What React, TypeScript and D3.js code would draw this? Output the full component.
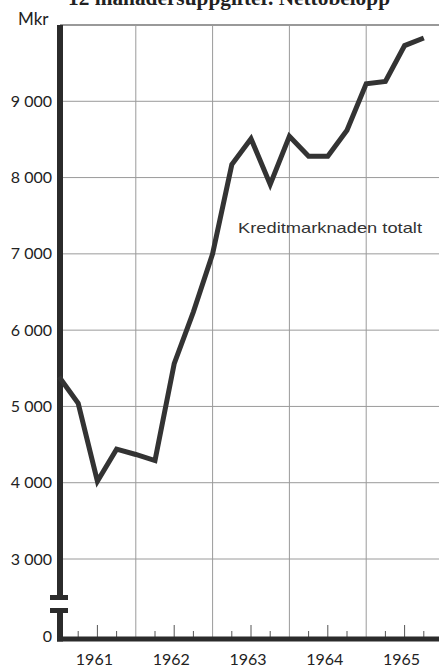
import { useEffect, useRef } from 'react';
import * as d3 from 'd3';

// ==========================================
// DATA
// ==========================================
const periods = [
    1961.0, 1961.25, 1961.5, 1961.75,
    1962.0, 1962.25, 1962.5, 1962.75,
    1963.0, 1963.25, 1963.5, 1963.75,
    1964.0, 1964.25, 1964.5, 1964.75,
    1965.0, 1965.25, 1965.5, 1965.75,
];

const kreditmarknaden = [
    5390, 5040, 4020, 4440,
    4370, 4290, 5560, 6240,
    7000, 8170, 8510, 7910,
    8540, 8280, 8280, 8620,
    9230, 9260, 9730, 9830,
];

const yearLabels = [1961, 1962, 1963, 1964, 1965];

const yTicks = [3000, 4000, 5000, 6000, 7000, 8000, 9000];

const title = '12 månadersuppgifter. Nettobelopp';
const unitLabel = 'Mkr';
const seriesLabel = 'Kreditmarknaden totalt';


const App = () => {

    const svgRef = useRef<SVGSVGElement>(null);

    useEffect(() => {

        document.body.style.margin = '0';

        const width = 439;
        const height = 671;

        const svg = d3.select(svgRef.current);
        svg.selectAll('*').remove();

        svg.attr('width', width).attr('height', height);

        const ink = '#2b2b2b';
        const grid = '#9a9a9a';
        const sans = 'Lato, "DejaVu Sans", sans-serif';

        // ==========================================
        // SCALES
        // ==========================================
        const axisX = 60;
        const zeroY = 639;
        const breakTop = 600;
        const breakBottom = 608;

        const x = d3.scaleLinear()
            .domain([1961, 1966])
            .range([59, 59 + 5 * 76.8]);

        const y = d3.scaleLinear()
            .domain([3000, 10000])
            .range([559, 25]);

        // ==========================================
        // GRID
        // ==========================================
        svg.append('line')
            .attr('x1', axisX)
            .attr('x2', width)
            .attr('y1', y(10000))
            .attr('y2', y(10000))
            .attr('stroke', '#777')
            .attr('stroke-width', 1.4);

        svg.selectAll('.hgrid')
            .data(yTicks)
            .enter()
            .append('line')
            .attr('class', 'hgrid')
            .attr('x1', axisX)
            .attr('x2', width)
            .attr('y1', d => y(d))
            .attr('y2', d => y(d))
            .attr('stroke', grid)
            .attr('stroke-width', 1);

        svg.selectAll('.vgrid')
            .data(yearLabels.slice(1))
            .enter()
            .append('line')
            .attr('class', 'vgrid')
            .attr('x1', d => x(d))
            .attr('x2', d => x(d))
            .attr('y1', y(10000))
            .attr('y2', zeroY)
            .attr('stroke', grid)
            .attr('stroke-width', 1);

        // ==========================================
        // X AXIS TICKS (quarters)
        // ==========================================
        const quarterTicks = periods.filter(p => p % 1 !== 0);

        svg.selectAll('.qtick')
            .data(quarterTicks)
            .enter()
            .append('line')
            .attr('class', 'qtick')
            .attr('x1', d => x(d))
            .attr('x2', d => x(d))
            .attr('y1', d => (d % 1 === 0.5 ? zeroY - 14 : zeroY - 8))
            .attr('y2', zeroY)
            .attr('stroke', '#555')
            .attr('stroke-width', 1);

        // ==========================================
        // AXES (thick bars with break)
        // ==========================================
        svg.append('line')
            .attr('x1', axisX)
            .attr('x2', axisX)
            .attr('y1', y(10000))
            .attr('y2', breakTop)
            .attr('stroke', ink)
            .attr('stroke-width', 6);

        svg.append('line')
            .attr('x1', axisX)
            .attr('x2', axisX)
            .attr('y1', breakBottom)
            .attr('y2', zeroY + 2.5)
            .attr('stroke', ink)
            .attr('stroke-width', 6);

        [breakTop - 2.5, breakBottom + 2.5].forEach(cy => {
            svg.append('line')
                .attr('x1', axisX - 10)
                .attr('x2', axisX + 8)
                .attr('y1', cy)
                .attr('y2', cy)
                .attr('stroke', ink)
                .attr('stroke-width', 5);
        });

        svg.append('line')
            .attr('x1', axisX - 3)
            .attr('x2', width)
            .attr('y1', zeroY)
            .attr('y2', zeroY)
            .attr('stroke', ink)
            .attr('stroke-width', 5);

        // ==========================================
        // LABELS
        // ==========================================
        const fmt = (v: number) => d3.format(',')(v).replace(',', ' ');

        svg.selectAll('.ylab')
            .data(yTicks)
            .enter()
            .append('text')
            .attr('class', 'ylab')
            .attr('x', 52)
            .attr('y', d => y(d))
            .attr('dy', '0.35em')
            .attr('text-anchor', 'end')
            .attr('font-family', sans)
            .attr('font-size', 16)
            .attr('fill', '#222')
            .text(d => fmt(d));

        svg.append('text')
            .attr('x', 52)
            .attr('y', zeroY - 3)
            .attr('dy', '0.35em')
            .attr('text-anchor', 'end')
            .attr('font-family', sans)
            .attr('font-size', 16)
            .attr('fill', '#222')
            .text('0');

        svg.selectAll('.xlab')
            .data(yearLabels)
            .enter()
            .append('text')
            .attr('class', 'xlab')
            .attr('x', d => x(d + 0.5) - 3)
            .attr('y', 665)
            .attr('text-anchor', 'middle')
            .attr('font-family', sans)
            .attr('font-size', 16)
            .attr('fill', '#222')
            .text(d => d);

        svg.append('text')
            .attr('x', 18)
            .attr('y', 25)
            .attr('font-family', sans)
            .attr('font-size', 17)
            .attr('fill', '#222')
            .text(unitLabel);

        svg.append('text')
            .attr('x', 68)
            .attr('y', 5)
            .attr('font-family', '"Liberation Serif", "DejaVu Serif", serif')
            .attr('font-weight', 'bold')
            .attr('font-size', 21)
            .attr('textLength', 322)
            .attr('lengthAdjust', 'spacingAndGlyphs')
            .attr('fill', '#222')
            .text(title);

        svg.append('text')
            .attr('x', 238)
            .attr('y', 233)
            .attr('font-family', '"Liberation Sans", Arial, sans-serif')
            .attr('font-size', 15)
            .attr('textLength', 184)
            .attr('lengthAdjust', 'spacingAndGlyphs')
            .attr('fill', '#333')
            .text(seriesLabel);

        // ==========================================
        // LINE
        // ==========================================
        const line = d3.line<number>()
            .x((_, i) => x(periods[i]))
            .y(d => y(d));

        svg.append('path')
            .datum(kreditmarknaden)
            .attr('fill', 'none')
            .attr('stroke', '#333')
            .attr('stroke-width', 5)
            .attr('stroke-linejoin', 'miter')
            .attr('d', line);

    }, []);

    return (
        <svg ref={svgRef} style={{ position: 'absolute', top: 0, left: 0 }}></svg>
    );
};

export default App;
